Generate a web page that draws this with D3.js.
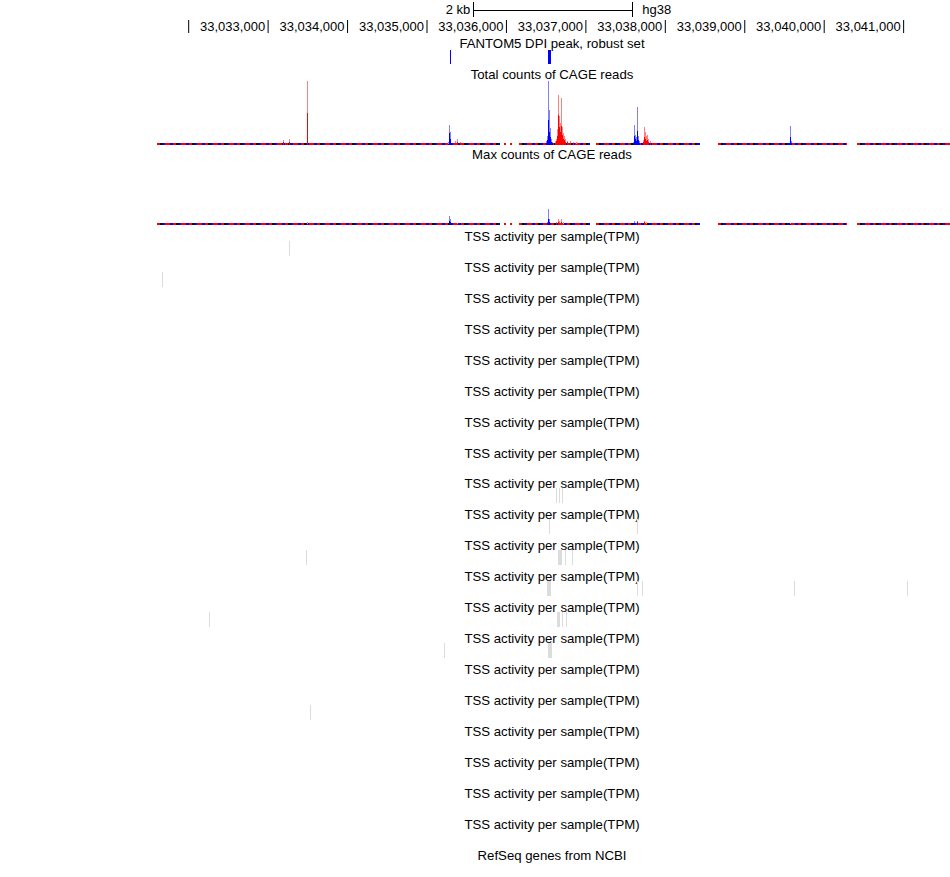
<!DOCTYPE html>
<html>
<head>
<meta charset="utf-8">
<script src="https://cdn.jsdelivr.net/npm/d3@7"></script>
<style>
  body { margin: 0; background: #fff; }
  text { font-family: "Liberation Sans", Arial, sans-serif; font-size: 13px; fill: #000; }
  text.title { font-size: 13.2px; }
</style>
</head>
<body>
<div id="browser"></div>
<script>
// window shown, hg38 chr coordinates
var viewStart = 33031620;
var viewEnd = 33041590;

// ruler
var tickValues = [33032000, 33033000, 33034000, 33035000, 33036000, 33037000, 33038000, 33039000, 33040000, 33041000];
var tickLabels = ["", "33,033,000", "33,034,000", "33,035,000", "33,036,000", "33,037,000", "33,038,000", "33,039,000", "33,040,000", "33,041,000"];
var scaleBar = [33035590, 33037590];
var scaleBarLabel = "2 kb";
var assembly = "hg38";

var trackTitles = ["FANTOM5 DPI peak, robust set", "Total counts of CAGE reads", "Max counts of CAGE reads"];
var tssTitle = "TSS activity per sample(TPM)";
var tssTrackCount = 20;
var refseqTitle = "RefSeq genes from NCBI";

// DPI peaks [start, end]
var dpiPeaks = [[33035292, 33035305], [33036528, 33036566]];

// regions with read coverage (baseline)
var coverage = [[33031610, 33035925], [33035976, 33036001], [33036051, 33036076], [33036165, 33037058],
  [33037134, 33038443], [33038670, 33040294], [33040420, 33041590]];

// Total counts: [position, max, mean]
var totalPlus = [
  [33033496, 8, 5], [33035270, 4, 2], [33035283, 31, 19], [33035296, 20, 10],
  [33036505, 6, 3], [33036517, 14, 8], [33036530, 100, 39], [33036542, 55, 20], [33036555, 27, 12],
  [33036567, 9, 5], [33036580, 5, 3],
  [33037599, 5, 3], [33037612, 31, 14], [33037625, 16, 9], [33037637, 12, 6], [33037650, 59, 22],
  [33037663, 14, 8], [33037676, 6, 3],
  [33039576, 30, 12], [33039589, 6, 3]
];
var totalMinus = [
  [33033194, 8, 4], [33033269, 9, 5], [33033496, 100, 50],
  [33035359, 6, 3], [33035384, 9, 5], [33035422, 5, 3],
  [33036618, 6, 3], [33036630, 10, 6], [33036643, 25, 14], [33036656, 78, 47], [33036668, 45, 28],
  [33036681, 35, 20], [33036693, 73, 30], [33036706, 28, 15], [33036719, 18, 10], [33036731, 14, 8],
  [33036744, 10, 5], [33036769, 7, 4], [33036807, 6, 3], [33036845, 5, 3], [33036882, 4, 2],
  [33037726, 8, 4], [33037738, 28, 12], [33037751, 20, 10], [33037764, 14, 7], [33037776, 16, 8],
  [33037789, 9, 5], [33037814, 6, 3]
];

// Max counts: [position, max, mean]
var maxPlus = [
  [33035283, 14, 7], [33035296, 9, 5], [33036517, 5, 3], [33036530, 25, 10], [33036542, 10, 5],
  [33037612, 6, 3], [33037650, 7, 4], [33039576, 3, 2]
];
var maxMinus = [
  [33033496, 4, 2], [33035384, 3, 2], [33036630, 5, 3], [33036656, 9, 4], [33036668, 6, 3],
  [33036693, 9, 5], [33036719, 4, 2], [33037738, 7, 4], [33037764, 4, 2]
];

// TSS activity bars: [track index, start, end]
var tssBars = [
  [0, 33033269, 33033282],
  [1, 33031670, 33031683],
  [8, 33036630, 33036643], [8, 33036668, 33036681], [8, 33036706, 33036719],
  [9, 33036542, 33036555], [9, 33037650, 33037663],
  [10, 33033483, 33033496], [10, 33036656, 33036706], [10, 33036744, 33036757], [10, 33036832, 33036845],
  [11, 33036521, 33036576], [11, 33037650, 33037663], [11, 33037713, 33037726], [11, 33039627, 33039640], [11, 33041049, 33041062],
  [12, 33032262, 33032275], [12, 33036643, 33036681], [12, 33036706, 33036719], [12, 33036750, 33036763],
  [13, 33035220, 33035233], [13, 33036534, 33036584],
  [15, 33033534, 33033547]
];

var svgWidth = 950;
var svgHeight = 877;
var titleX = 552;

var svg = d3.select("#browser")
  .append("svg")
  .attr("width", svgWidth)
  .attr("height", svgHeight);

var x = d3.scaleLinear()
  .domain([viewStart, viewEnd])
  .range([158, 950]);

// scale bar + assembly
var sb = svg.append("g");
sb.append("line")
  .attr("x1", x(scaleBar[0])).attr("x2", x(scaleBar[1]))
  .attr("y1", 10.5).attr("y2", 10.5)
  .attr("stroke", "#000");
scaleBar.forEach(function(p) {
  sb.append("line")
    .attr("x1", Math.round(x(p)) + 0.5).attr("x2", Math.round(x(p)) + 0.5)
    .attr("y1", 2).attr("y2", 17)
    .attr("stroke", "#000");
});
sb.append("text").attr("x", x(scaleBar[0]) - 3).attr("y", 14).attr("text-anchor", "end").text(scaleBarLabel);
sb.append("text").attr("x", x(scaleBar[1]) + 10).attr("y", 14).text(assembly);

// base position axis
var axis = d3.axisBottom(x)
  .tickValues(tickValues)
  .tickSize(13)
  .tickFormat(function(d, i) { return tickLabels[i]; });

var ax = svg.append("g")
  .attr("transform", "translate(0, 20)")
  .call(axis);
ax.select(".domain").remove();
ax.selectAll(".tick line").attr("stroke", "#000");
ax.selectAll(".tick text")
  .attr("text-anchor", "end")
  .attr("x", -3)
  .attr("y", 11)
  .attr("dy", null);

function title(txt, cy) {
  svg.append("text")
    .attr("class", "title")
    .attr("x", titleX)
    .attr("y", cy + 5)
    .attr("text-anchor", "middle")
    .text(txt);
}

// FANTOM5 DPI peaks
title(trackTitles[0], 43);
svg.append("g").selectAll("rect")
  .data(dpiPeaks)
  .enter()
  .append("rect")
  .attr("x", d => Math.round(x(d[0])))
  .attr("width", d => Math.max(1, Math.round(x(d[1]) - x(d[0]))))
  .attr("y", 50)
  .attr("height", 14)
  .attr("fill", "#0000ff");

function signalTrack(bottom, top, plus, minus) {
  var y = d3.scaleLinear().domain([0, 100]).range([bottom, top]);
  var g = svg.append("g").attr("shape-rendering", "crispEdges");

  // low-level coverage along the baseline: alternating strand dashes
  var dashes = [["#ff0000", "5,3", 0], ["#0000ff", "3,5", -5], ["#000000", "2,14", -3]];
  dashes.forEach(function(ds) {
    g.append("g").selectAll("line")
      .data(coverage)
      .enter()
      .append("line")
      .attr("x1", d => x(d[0])).attr("x2", d => x(d[1]))
      .attr("y1", bottom - 1).attr("y2", bottom - 1)
      .attr("stroke", ds[0]).attr("stroke-width", 2)
      .attr("stroke-dasharray", ds[1])
      .attr("stroke-dashoffset", ds[2]);
  });

  [[plus, "#8080ff", "#0000ff"], [minus, "#ff8080", "#ff0000"]].forEach(function(s) {
    var sg = g.append("g");
    sg.selectAll(".max")
      .data(s[0])
      .enter()
      .append("rect")
      .attr("class", "max")
      .attr("x", d => Math.round(x(d[0])))
      .attr("width", 1)
      .attr("y", d => y(d[1]))
      .attr("height", d => bottom - y(d[1]))
      .attr("fill", s[1]);
    sg.selectAll(".mean")
      .data(s[0])
      .enter()
      .append("rect")
      .attr("class", "mean")
      .attr("x", d => Math.round(x(d[0])))
      .attr("width", 1)
      .attr("y", d => y(d[2]))
      .attr("height", d => bottom - y(d[2]))
      .attr("fill", s[2]);
  });
}

title(trackTitles[1], 74);
signalTrack(145, 81, totalPlus, totalMinus);

title(trackTitles[2], 154);
signalTrack(225, 161, maxPlus, maxMinus);

// TSS activity tracks
var tssY = d3.range(tssTrackCount).map(i => 236 + i * 30.93);
tssY.forEach(function(cy) { title(tssTitle, cy); });

svg.append("g").selectAll("rect")
  .data(tssBars)
  .enter()
  .append("rect")
  .attr("x", d => Math.round(x(d[1])))
  .attr("width", d => Math.max(1, Math.round(x(d[2]) - x(d[1]))))
  .attr("y", d => Math.round(tssY[d[0]]) + 5)
  .attr("height", 15)
  .attr("fill", "#dcdcdc");

title(refseqTitle, 855);
</script>
</body>
</html>
